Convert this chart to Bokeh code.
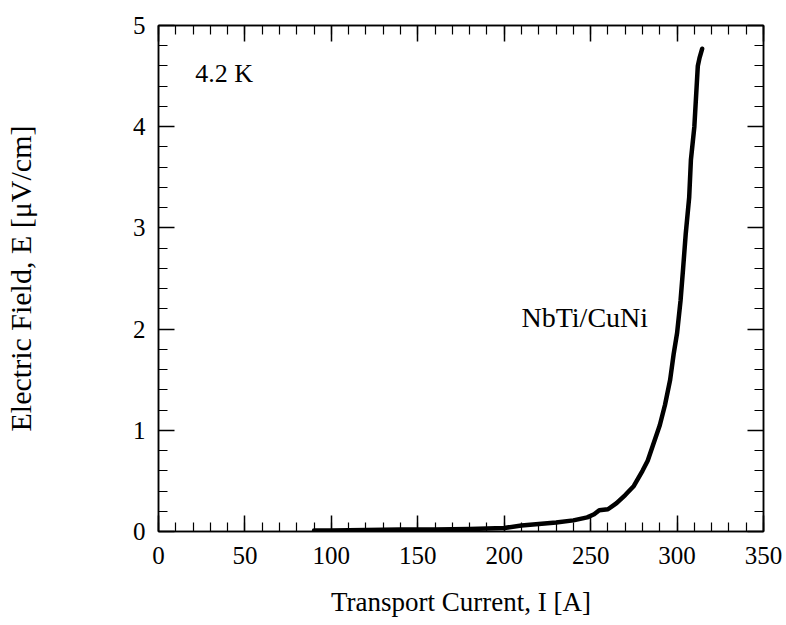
from bokeh.plotting import figure
from bokeh.models import Range1d, LinearAxis, SingleIntervalTicker, Label, ColumnDataSource
from bokeh.embed import file_html
from bokeh.resources import INLINE

# Data
current_A = [90, 100, 120, 140, 160, 180, 200, 210, 220, 230, 240, 248, 252, 255,
             260, 265, 270, 275, 280, 283, 286, 290, 293, 296, 298, 300, 302,
             303.5, 305, 307, 308, 310, 312, 313, 314.5]
field_uVcm = [0.01, 0.01, 0.015, 0.02, 0.02, 0.025, 0.035, 0.06, 0.075, 0.09, 0.11,
              0.14, 0.17, 0.21, 0.22, 0.28, 0.36, 0.45, 0.60, 0.70, 0.85, 1.05,
              1.25, 1.50, 1.75, 1.96, 2.28, 2.60, 2.94, 3.30, 3.67, 4.00, 4.60,
              4.68, 4.77]
temp_label = "4.2 K"
sample_label = "NbTi/CuNi"
x_title = "Transport Current, I [A]"
y_title = "Electric Field, E [μV/cm]"

FONT = "Liberation Serif"

p = figure(width=786, height=625, output_backend="svg", toolbar_location=None,
           x_range=Range1d(0, 350), y_range=Range1d(0, 5),
           min_border_left=156, min_border_right=23, min_border_top=25,
           min_border_bottom=94, x_axis_location=None, y_axis_location=None)
p.grid.visible = False
p.outline_line_color = "black"
p.outline_line_width = 1.5
p.background_fill_color = "white"
p.border_fill_color = "white"

def make_axis(interval, labels=True, title=None, title_size="27px"):
    ax = LinearAxis(ticker=SingleIntervalTicker(interval=interval, num_minor_ticks=5))
    ax.major_tick_in = 16
    ax.major_tick_out = 0
    ax.minor_tick_in = 9
    ax.minor_tick_out = 0
    ax.axis_line_color = "black"
    ax.axis_line_width = 1.5
    ax.major_tick_line_color = "black"
    ax.major_tick_line_width = 1.5
    ax.minor_tick_line_color = "black"
    ax.minor_tick_line_width = 1.2
    ax.major_label_text_font = FONT
    ax.major_label_text_font_size = "25px"
    ax.major_label_text_color = "black"
    if not labels:
        ax.major_label_text_font_size = "0px"
        ax.major_label_text_alpha = 0
    if title:
        ax.axis_label = title
        ax.axis_label_text_font = FONT
        ax.axis_label_text_font_size = title_size
        ax.axis_label_text_font_style = "normal"
        ax.axis_label_text_color = "black"
    return ax

xb = make_axis(50, True, x_title, "27px")
xb.major_label_standoff = 15
xb.axis_label_standoff = 20
p.add_layout(xb, "below")

yl = make_axis(1, True, y_title, "30px")
yl.major_label_standoff = 13
yl.axis_label_standoff = 93
p.add_layout(yl, "left")

xt = make_axis(50, False)
xt.major_label_standoff = 0
p.add_layout(xt, "above")

yr = make_axis(1, False)
yr.major_label_standoff = 0
p.add_layout(yr, "right")

src = ColumnDataSource(data=dict(x=current_A, y=field_uVcm))
p.line("x", "y", source=src, line_color="black", line_width=4.5, line_join="round", line_cap="round")

p.add_layout(Label(x=21.3, y=4.53, text=temp_label, text_font=FONT, text_font_size="26px",
                   text_color="black", text_baseline="alphabetic"))
p.add_layout(Label(x=210, y=2.11, text=sample_label, text_font=FONT, text_font_size="28px",
                   text_color="black", text_baseline="alphabetic"))

open("out.html", "w").write(file_html(p, INLINE))
